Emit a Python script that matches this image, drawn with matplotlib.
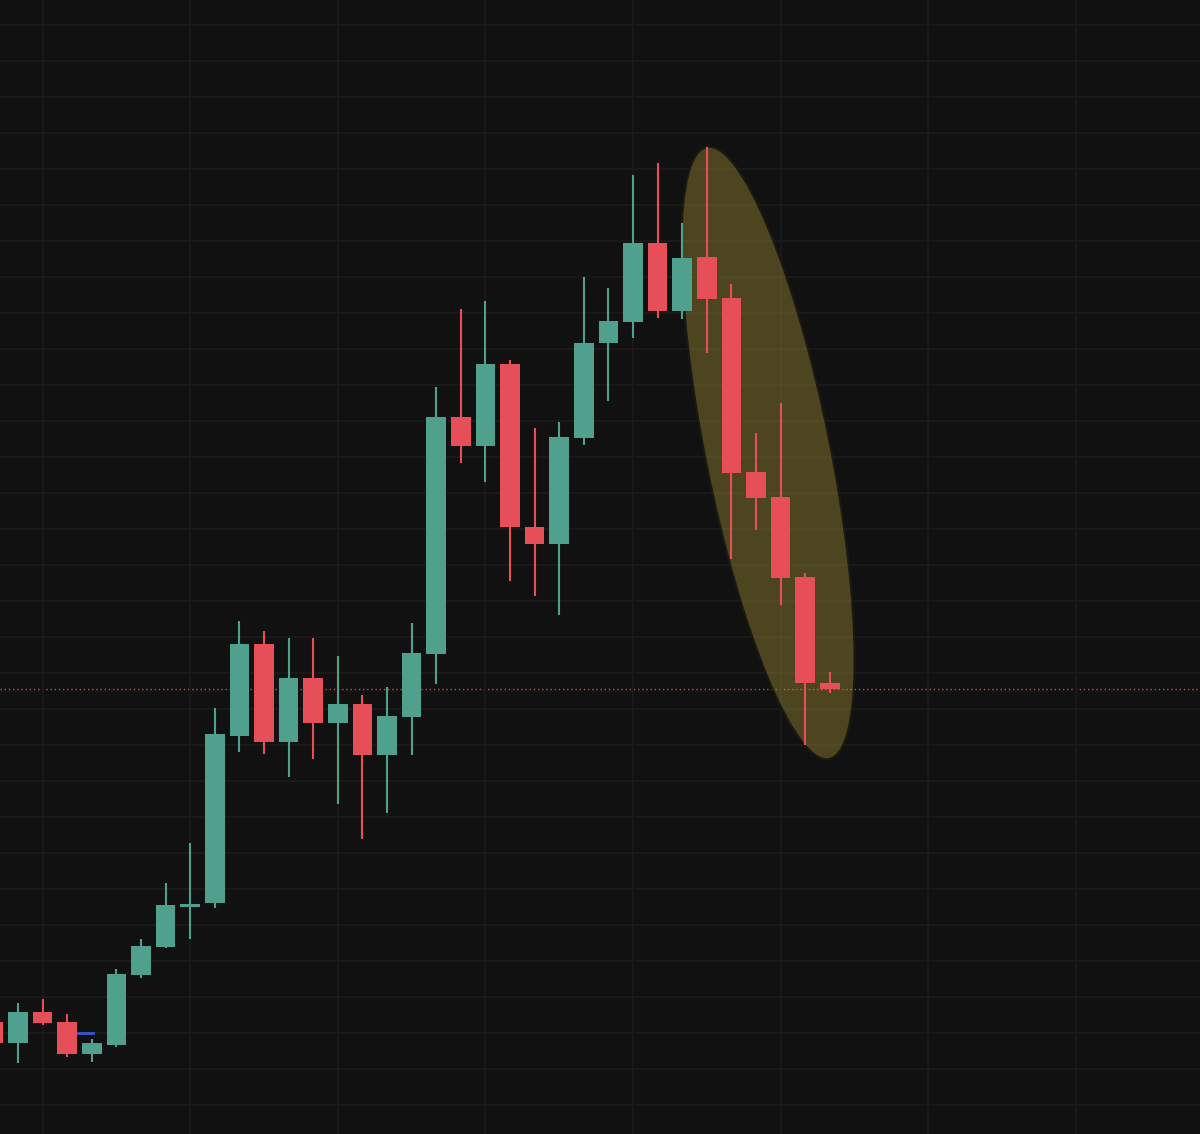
import numpy as np
import matplotlib
matplotlib.use("Agg")
import matplotlib.pyplot as plt
from matplotlib.patches import Ellipse
from matplotlib.transforms import IdentityTransform

# OHLC per candle (index 0 is partly cut off on the left)
opens = [113.1, 107.2, 115.8, 113.1, 104.2, 106.7, 126.1, 133.9, 145.0, 146.1,
         192.5, 218.1, 190.8, 208.6, 196.1, 201.4, 187.2, 197.8, 215.3, 281.1,
         273.1, 295.8, 250.6, 245.8, 275.3, 301.7, 307.5, 329.4, 310.6, 325.6,
         314.2, 265.8, 258.9, 236.7, 207.2]
highs = [114.7, 118.3, 119.4, 115.3, 108.3, 127.8, 136.1, 151.7, 162.8, 200.3,
         224.4, 221.7, 219.7, 219.7, 214.7, 203.9, 206.1, 223.9, 289.4, 311.1,
         313.3, 296.9, 278.1, 279.7, 320.0, 316.9, 348.3, 351.7, 335.0, 356.1,
         318.1, 276.7, 285.0, 237.8, 210.3]
lows = [105.8, 101.7, 112.2, 103.3, 101.9, 106.1, 125.3, 133.6, 136.1, 144.7,
        188.1, 187.5, 181.1, 186.1, 173.6, 163.9, 171.1, 187.2, 206.9, 268.3,
        263.1, 235.6, 231.4, 226.1, 273.3, 285.6, 303.1, 308.6, 308.3, 298.9,
        241.7, 249.7, 228.9, 190.0, 204.4]
closes = [107.2, 115.8, 112.8, 104.2, 107.2, 126.4, 134.2, 145.6, 145.8, 193.1,
          218.1, 190.8, 208.6, 196.1, 201.4, 187.2, 198.1, 215.6, 281.1, 273.1,
          295.8, 250.6, 245.8, 275.6, 301.7, 307.8, 329.4, 310.6, 325.3, 313.9,
          265.6, 258.6, 236.4, 207.2, 205.6]

# small blue level marker near the start
marker_x = [3.44, 4.05]
marker_price = 110.0

# highlighted drop: ellipse centre (candle index, price), axes in pixels
ell_center = (31.49, 271.1)
ell_major, ell_minor, ell_angle = 624, 125, -78.7

up_col = "#4fa08c"
down_col = "#e64f57"
bg = "#111111"

o = np.array(opens)
c = np.array(closes)
h = np.array(highs)
l = np.array(lows)
x = np.arange(len(o))
up = c >= o
cols = np.where(up, up_col, down_col)

fig = plt.figure(figsize=(12, 11.34), dpi=100, facecolor=bg)
ax = fig.add_axes([0, 0, 1, 1])
ax.set_facecolor(bg)
ax.set_xlim(0.27, 49.05)
ax.set_ylim(81.94, 396.94)

ax.set_xticks(np.arange(2, 50, 6))
ax.set_yticks(np.arange(90, 400, 10))
ax.grid(True, color="#1a1a1a", linewidth=1.3, zorder=0)
ax.tick_params(length=0, labelbottom=False, labelleft=False)
for s in ax.spines.values():
    s.set_visible(False)

# last price line
ax.axhline(closes[-1], color="#d24b40", linewidth=1, linestyle=(0, (1, 2)), zorder=1)

# ellipse, drawn in pixel space so its tilt matches, kept under the candles
fig.canvas.draw()
cx, cy = ax.transData.transform(ell_center)
ell = Ellipse((cx, cy), ell_major, ell_minor, angle=ell_angle,
              transform=IdentityTransform(), facecolor="#b8a23a", alpha=0.36,
              edgecolor="none", zorder=2)
ax.add_artist(ell)
ell_edge = Ellipse((cx, cy), ell_major, ell_minor, angle=ell_angle,
                   transform=IdentityTransform(), facecolor="none",
                   edgecolor="#1a1a12", linewidth=1.5, zorder=2)
ax.add_artist(ell_edge)

# candles
ax.vlines(x, l, h, colors=cols, linewidth=1.5, zorder=3)
body = np.maximum(np.abs(c - o), 0.9)
ax.bar(x, body, bottom=np.minimum(o, c), width=0.8, color=cols, zorder=4)

ax.plot(marker_x, [marker_price, marker_price], color="#3a55d8", linewidth=2, zorder=3)

fig.savefig("out.png", dpi=100, facecolor=bg)
